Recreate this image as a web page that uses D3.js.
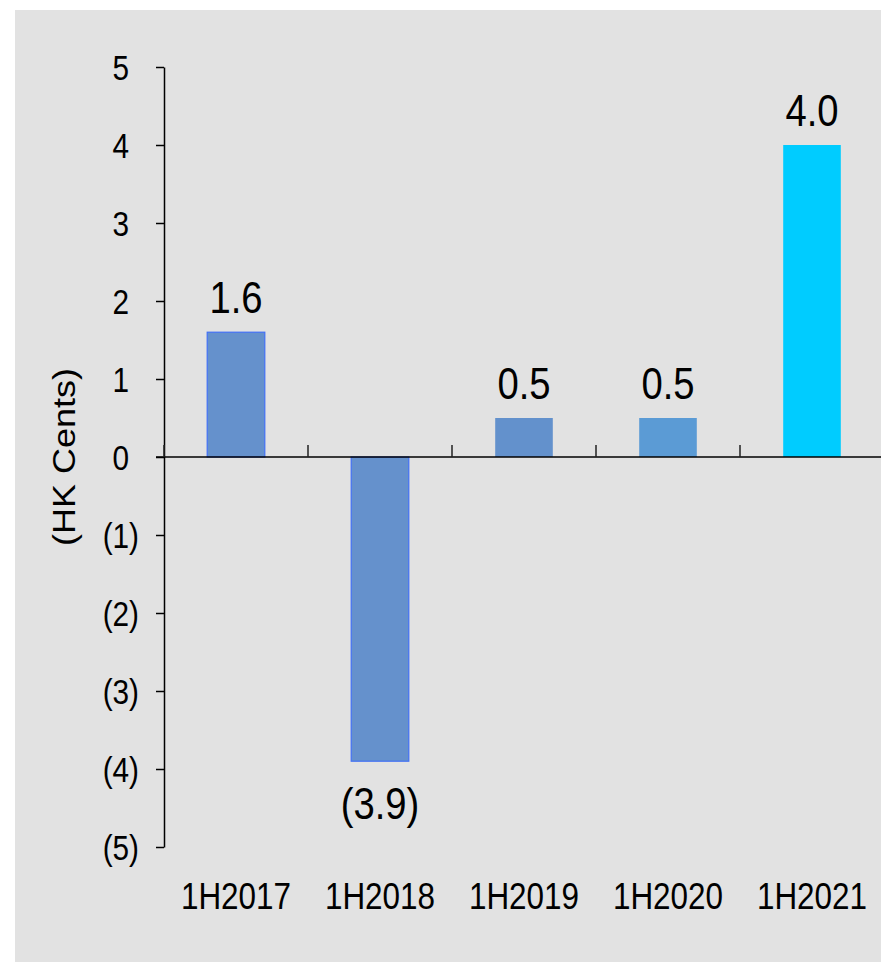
<!DOCTYPE html>
<html>
<head>
<meta charset="utf-8">
<script src="https://cdn.jsdelivr.net/npm/d3@7"></script>
<style>
  body { margin: 0; background: #fff; }
  text { font-family: "Liberation Sans", Arial, sans-serif; fill: #000; }
</style>
</head>
<body>
<script>
var outerWidth = 881;
var outerHeight = 962;

// chart data
var categories = ["1H2017", "1H2018", "1H2019", "1H2020", "1H2021"];
var values = [1.6, -3.9, 0.5, 0.5, 4.0];
var barColors = ["#6591cc", "#6591cc", "#6391cc", "#5b9bd5", "#00ccff"];
var barBorders = ["#4170f5", "#4170f5", "none", "none", "none"];
var yTicks = [5, 4, 3, 2, 1, 0, -1, -2, -3, -4, -5];
var yTitle = "(HK Cents)";

var squeeze = "scale(0.85,1)";   // glyphs in the original look a bit narrow

var svg = d3.select("body").append("svg")
    .attr("width", outerWidth)
    .attr("height", outerHeight);

// grey panel
svg.append("rect")
    .attr("x", 15).attr("y", 10)
    .attr("width", outerWidth - 15).attr("height", outerHeight - 10)
    .attr("fill", "#e2e2e2");

var axisX = 164;
var y = d3.scaleLinear()
    .domain([-5, 5])
    .range([847, 67]);

var x = d3.scaleBand()
    .domain(categories)
    .range([axisX, axisX + 720])
    .paddingInner(0.6)
    .paddingOuter(0.3);

var fmt = d3.format(".1f");

// bars
svg.selectAll(".bar")
    .data(values)
    .enter().append("rect")
    .attr("class", "bar")
    .attr("x", function(d, i) { return x(categories[i]); })
    .attr("y", function(d) { return y(Math.max(0, d)); })
    .attr("width", x.bandwidth())
    .attr("height", function(d) { return Math.abs(y(d) - y(0)); })
    .attr("fill", function(d, i) { return barColors[i]; })
    .attr("stroke", function(d, i) { return barBorders[i]; })
    .attr("stroke-width", 1.2);

// y axis
var yAxis = svg.append("g")
    .attr("transform", "translate(" + axisX + ",0)")
    .call(d3.axisLeft(y).tickValues(yTicks).tickSize(8).tickSizeOuter(0).tickFormat(""));
yAxis.select(".domain").attr("stroke", "#000").attr("stroke-width", 1.5);
yAxis.selectAll(".tick line").attr("stroke", "#000").attr("stroke-width", 1.5);

var tickLabel = yAxis.selectAll(".tick").append("text")
    .attr("transform", "translate(-25,0) " + squeeze)
    .attr("text-anchor", "end")
    .attr("dy", "0.36em")
    .style("font-size", "35px")
    .text(function(d) { return d < 0 ? "(" + Math.abs(d) + ")" : d; });
// keep the digits lined up with the bracketed ones
tickLabel.filter(function(d) { return d >= 0; })
    .append("tspan").attr("fill-opacity", 0).text(")");

// zero line
svg.append("line")
    .attr("x1", axisX - 8).attr("x2", outerWidth)
    .attr("y1", y(0)).attr("y2", y(0))
    .attr("stroke", "#000").attr("stroke-width", 1.5);

// category separators on the zero line
svg.selectAll(".sep")
    .data(categories)
    .enter().append("line")
    .attr("class", "sep")
    .attr("x1", function(d) { return x(d) - x.step() * x.paddingInner() / 2; })
    .attr("x2", function(d) { return x(d) - x.step() * x.paddingInner() / 2; })
    .attr("y1", y(0) - 12).attr("y2", y(0))
    .attr("stroke", "#222").attr("stroke-width", 1.5);

// category labels
svg.selectAll(".cat")
    .data(categories)
    .enter().append("text")
    .attr("class", "cat")
    .attr("transform", function(d) { return "translate(" + (x(d) + x.bandwidth() / 2) + ",909) " + squeeze; })
    .attr("text-anchor", "middle")
    .style("font-size", "37px")
    .text(function(d) { return d; });

// value labels
svg.selectAll(".val")
    .data(values)
    .enter().append("text")
    .attr("class", "val")
    .attr("transform", function(d, i) {
        var ty = d >= 0 ? y(d) - 19 : y(d) + 58;
        return "translate(" + (x(categories[i]) + x.bandwidth() / 2) + "," + ty + ") " + squeeze;
    })
    .attr("text-anchor", "middle")
    .style("font-size", "45px")
    .text(function(d) { return d < 0 ? "(" + fmt(-d) + ")" : fmt(d); });

// y title
svg.append("text")
    .attr("transform", "translate(75," + y(0) + ") " + squeeze + " rotate(-90)")
    .attr("text-anchor", "middle")
    .style("font-size", "36px")
    .text(yTitle);
</script>
</body>
</html>
